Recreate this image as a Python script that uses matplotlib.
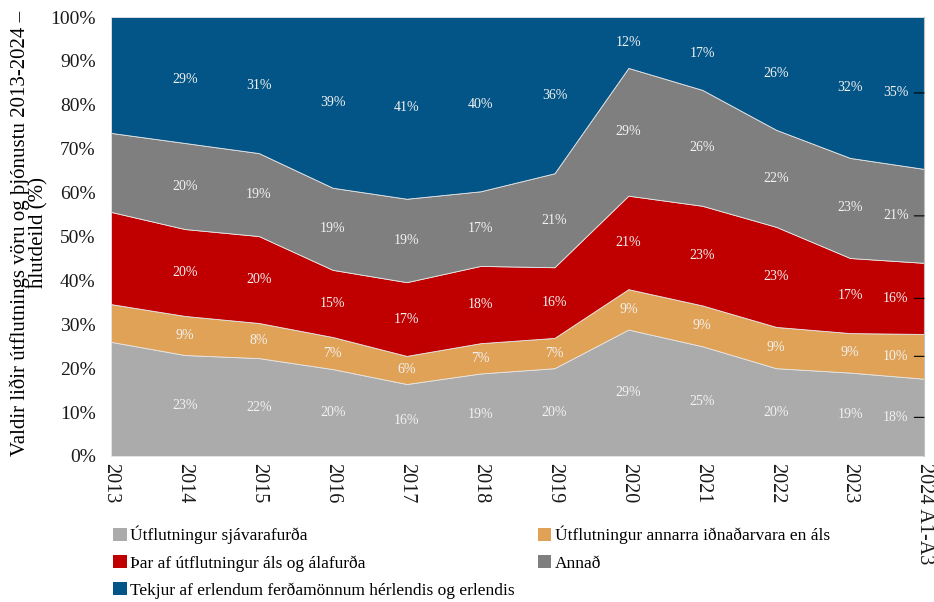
import numpy as np
import matplotlib
matplotlib.use("Agg")
import matplotlib.pyplot as plt
from matplotlib.patches import Patch

plt.rcParams['font.family'] = ['Liberation Serif', 'DejaVu Serif']

years = ['2013', '2014', '2015', '2016', '2017', '2018', '2019', '2020',
         '2021', '2022', '2023', '2024 Á1-Á3']

# shares in %, stacked bottom to top
sea = [26.0, 23.0, 22.3, 19.8, 16.4, 18.8, 20.0, 28.8, 25.0, 20.0, 19.0, 17.6]
industry = [8.6, 8.9, 8.0, 7.3, 6.4, 6.9, 6.9, 9.2, 9.3, 9.4, 9.0, 10.2]
aluminium = [21.0, 19.8, 19.8, 15.3, 16.8, 17.6, 16.1, 21.3, 22.7, 22.8, 17.1, 16.2]
other = [18.0, 19.6, 18.9, 18.7, 19.0, 17.0, 21.4, 29.1, 26.4, 22.1, 22.8, 21.4]
tourism = [26.4, 28.7, 31.0, 38.9, 41.4, 39.7, 35.6, 11.6, 16.6, 25.7, 32.1, 34.6]

names = ['Útflutningur sjávarafurða',
         'Útflutningur annarra iðnaðarvara en áls',
         'Þar af útflutningur áls og álafurða',
         'Annað',
         'Tekjur af erlendum ferðamönnum hérlendis og erlendis']
colors = ['#ababab', '#e0a257', '#c00000', '#7f7f7f', '#025586']

series = np.array([sea, industry, aluminium, other, tourism])
x = np.arange(len(years))

fig = plt.figure(figsize=(9.34, 6.02), dpi=100)
ax = fig.add_axes([111 / 934, 1 - 456 / 602, 813 / 934, 439 / 602])

ax.stackplot(x, series, colors=colors, edgecolor='#e6e6e6', linewidth=0.6)

ax.set_xlim(0, len(years) - 1)
ax.set_ylim(0, 100)
ax.set_yticks(np.arange(0, 101, 10))
ax.set_yticklabels(['%d%%' % v for v in range(0, 101, 10)], fontsize=14)
ax.set_xticks(x)
ax.set_xticklabels(years, rotation=-90, fontsize=14.5, va='top')
ax.tick_params(axis='y', length=0, pad=11, colors='#1a1a1a')
ax.tick_params(axis='x', length=0, pad=5, colors='#1a1a1a')
for s in ['top', 'left', 'bottom']:
    ax.spines[s].set_visible(False)
ax.spines['right'].set_color('#bfbfbf')
ax.spines['right'].set_linewidth(0.8)

# band labels, skipping first year
cum = np.cumsum(series, axis=0)
last = len(years) - 1
for k in range(series.shape[0]):
    for i in range(1, len(years)):
        mid = cum[k, i] - series[k, i] / 2
        txt = '%.0f%%' % series[k, i]
        if i == last:
            ax.annotate(txt, xy=(i, mid), xytext=(-11, 0), textcoords='offset points',
                        ha='right', va='center', fontsize=10, color='#f2f2f2',
                        arrowprops=dict(arrowstyle='-', color='black', lw=0.8,
                                        shrinkA=2, shrinkB=0))
        else:
            ax.text(i, mid, txt, ha='center', va='center', fontsize=10, color='#f2f2f2')

fig.text(29 / 934, 1 - 233 / 602,
         'Valdir liðir útflutnings vöru og þjónustu 2013-2024 –\nhlutdeild (%)',
         rotation=90, ha='center', va='center', fontsize=15, linespacing=0.95)

order = [0, 2, 4, 1, 3]
handles = [Patch(facecolor=colors[j], edgecolor='none') for j in order]
labels = [names[j] for j in order]
fig.legend(handles, labels, ncol=2, loc='upper left', bbox_to_anchor=(113 / 934, 1 - 526 / 602),
           frameon=False, fontsize=12.5, handlelength=0.8, handleheight=0.8,
           handletextpad=0.2, columnspacing=1.3, labelspacing=0.6, borderaxespad=0,
           borderpad=0)

fig.savefig('out.png', dpi=100)
